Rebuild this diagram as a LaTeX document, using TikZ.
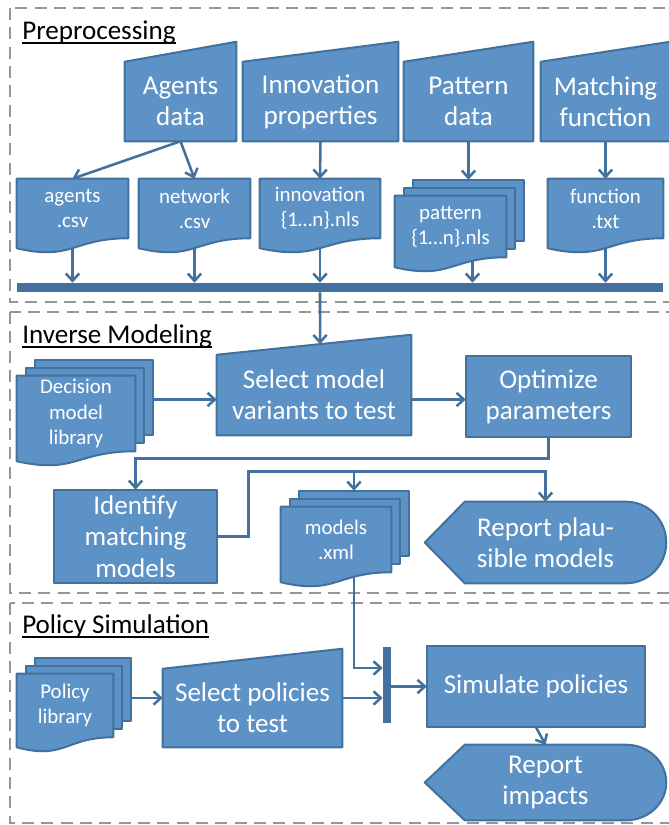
\documentclass[tikz,border=0pt]{standalone}
\usepackage{fontspec}
\setmainfont{Carlito}
\usepackage{tikz}
\usetikzlibrary{calc,arrows.meta,positioning}
\definecolor{myblue}{RGB}{93,146,199}
\definecolor{myline}{RGB}{65,113,156}
\definecolor{mybar}{RGB}{68,112,160}
\definecolor{mygray}{RGB}{150,150,150}
\pgfdeclarelayer{lines}
\pgfdeclarelayer{boxes}
\pgfsetlayers{lines,boxes,main}
\tikzstyle{shapeline}=[draw=myline,fill=myblue,line width=1.5pt,line join=round]
\tikzstyle{bigtext}=[inner sep=0pt,text=white,align=center,font=\fontsize{20.3pt}{23.5pt}\selectfont]
\tikzstyle{smalltext}=[inner sep=0pt,text=white,align=center,font=\fontsize{15.7pt}{18.8pt}\selectfont]
\tikzstyle{title}=[inner sep=0pt,anchor=base west,font=\fontsize{20.3pt}{24pt}\selectfont]
\tikzstyle{frame}=[draw=mygray,line width=1.8pt,dash pattern=on 9pt off 5.5pt]
\tikzstyle{bar}=[fill=mybar,inner sep=0pt]
\tikzstyle{conn}=[draw=myline,line width=1.9pt]
% node spanning two corners given in picture units (1 unit = 0.75pt)
\tikzset{spanbox/.style args={(#1,#2)(#3,#4)}{at={({(#1+#3)/2},{(#2+#4)/2})},
  minimum width={(#3-#1)*0.75pt},minimum height={(#4-#2)*0.75pt}}}
% underlined section titles
\newcommand{\ttl}[1]{\sbox0{#1}\rlap{\rule[-3.8pt]{\wd0}{1.5pt}}\usebox0}
% flowchart outlines drawn round the named text nodes
\newcommand{\maninshape}[1]{\filldraw[shapeline] (#1.north west) -- ($(#1.north east)+(0,-20)$) -- (#1.south east) -- (#1.south west) -- cycle;}
\newcommand{\docshape}[1]{\filldraw[shapeline] (#1.north west) -- (#1.north east) -- (#1.south east) .. controls (#1.south) and ($(#1.south)+(0,23)$) .. ($(#1.south west)+(0,10)$) -- cycle;}
\newcommand{\multidocshape}[1]{%
  \filldraw[shapeline] ($(#1.north west)+(18,-16)$) rectangle ($(#1.south east)+(18,-16)$);
  \filldraw[shapeline] ($(#1.north west)+(9,-8)$) rectangle ($(#1.south east)+(9,-8)$);
  \docshape{#1}
  \coordinate (#1-back) at ($(#1.north)+(18,-16)$);}
\newcommand{\dispshape}[1]{\filldraw[shapeline] let \p1=($(#1.north)-(#1.south)$) in (#1.west) -- ($(#1.north west)+(40,0)$) -- ($(#1.north east)+(-40,0)$) arc[start angle=90,end angle=-90,x radius=30pt,y radius=0.5*\y1] -- ($(#1.south west)+(40,0)$) -- cycle;}

\begin{document}
\begin{tikzpicture}[x=0.75pt,y=-0.75pt,>={Straight Barb[length=5.5pt,width=10pt]}]
\useasboundingbox (0,0) rectangle (668,825);

% Preprocessing
\node[title] (tpre) at (22,39) {\ttl{Preprocessing}};
\node[bigtext,spanbox={(125,62)(236,141)}] (agd) {Agents\\data};
\node[bigtext,spanbox={(243,62)(398,141)}] (inp) {Innovation\\properties};
\node[bigtext,spanbox={(404,62)(533,141)}] (pat) {Pattern\\data};
\node[bigtext,spanbox={(541,62)(670,141)}] (mfn) {Matching\\function};
\node[smalltext,spanbox={(17,179)(128,238)}] (agc) {agents\\.csv};
\node[smalltext,spanbox={(139,179)(250,238)}] (net) {network\\.csv};
\node[smalltext,spanbox={(260,179)(380,238)}] (inn) {innovation\\\{1…n\}.nls};
\node[smalltext,spanbox={(395,196)(506,257)}] (patd) {pattern\\\{1…n\}.nls};
\node[smalltext,spanbox={(548,179)(663,238)}] (fnc) {function\\.txt};
\node[bar,spanbox={(17,283)(663,292)}] (bar) {};

% Inverse Modeling
\node[title] (tinv) at (22,343) {\ttl{Inverse Modeling}};
\node[smalltext,spanbox={(17,376)(135,451)}] (dml) {Decision\\model\\library};
\node[bigtext,spanbox={(217,355)(411,435)}] (sel) {Select model\\variants to test};
\node[bigtext,spanbox={(466,356)(631,437)}] (opt) {Optimize\\parameters};
\node[bigtext,spanbox={(54,490)(217,583)}] (idm) {Identify\\matching\\models};
\node[smalltext,spanbox={(281,507)(391,572)}] (mxl) {models\\.xml};
\node[bigtext,spanbox={(425,502)(666,583)}] (rpm) {Report plau-\\sible models};

% Policy Simulation
\node[title] (tpol) at (22,633) {\ttl{Policy Simulation}};
\node[smalltext,spanbox={(17,674)(113,737)}] (pol) {Policy\\library};
\node[bigtext,spanbox={(163,669)(342,747)}] (spt) {Select policies\\to test};
\node[bar,spanbox={(383,647)(391,723)}] (sync) {};
\node[bigtext,spanbox={(427,646)(645,727)}] (sim) {Simulate policies};
\node[bigtext,spanbox={(425,745)(666,820)}] (rim) {Report\\impacts};

\begin{pgfonlayer}{boxes}
\maninshape{agd} \maninshape{inp} \maninshape{pat} \maninshape{mfn}
\docshape{agc} \docshape{net} \docshape{inn} \docshape{fnc}
\multidocshape{patd}
\multidocshape{dml}
\maninshape{sel}
\filldraw[shapeline] (opt.north west) rectangle (opt.south east);
\filldraw[shapeline] (idm.north west) rectangle (idm.south east);
\multidocshape{mxl}
\dispshape{rpm}
\multidocshape{pol}
\maninshape{spt}
\filldraw[shapeline] (sim.north west) rectangle (sim.south east);
\dispshape{rim}
\end{pgfonlayer}

\begin{pgfonlayer}{lines}
\draw[frame] (10,8) rectangle (672,302);
\draw[frame] (10,312) rectangle (672,593);
\draw[frame] (10,603) rectangle (672,823);
% data preparation
\draw[conn,->] (agd.south) -- (agc.north);
\draw[conn,->] (agd.south) -- (net.north);
\draw[conn,->] (inp.south) -- (inn.north);
\draw[conn,->] (pat.south) -- (patd-back);
\draw[conn,->] (mfn.south) -- (fnc.north);
\foreach \nm in {agc,net,inn,fnc}
  \draw[conn,->] (\nm.center) -- (\nm.center |- bar.north);
\draw[conn,->] ($(patd.center)+(22,0)$) -- ($(patd.center |- bar.north)+(22,0)$);
\coordinate (seltop) at ($(sel.north west)!0.531!(sel.north east)+(0,-10.6)$);
\draw[conn,->] (inn.center |- bar.south) -- (seltop);
% model search
\coordinate (dmlout) at ($(dml.east)+(18,-14)$);
\draw[conn,->] (dmlout) -- (dmlout -| sel.west);
\draw[conn,->] (dmlout -| sel.east) -- (dmlout -| opt.west);
\draw[conn,->] (opt.south) -- ++(0,21) -| (idm.north);
\coordinate (split) at ($(rpm.north)+(0,-30)$);
\draw[conn,->] (idm.east) -- ++(31,0) |- (split) -- (rpm.north);
\draw[conn,->] (split -| mxl-back) -- (mxl-back);
% policies
\coordinate (sptout) at ($(spt.east)+(0,-10)$);
\draw[conn,->] ($(pol.east |- sptout)+(18,0)$) -- (sptout -| spt.west);
\draw[conn,->] (sptout) -- (sptout -| sync.west);
\draw[conn,->] (mxl-back |- mxl.center) |- ($(sync.west)+(0,-17)$);
\draw[conn,->] (sync.east |- sim.west) -- (sim.west);
\draw[conn,->] (sim.south) -- (rim.north);
\end{pgfonlayer}
\end{tikzpicture}
\end{document}
